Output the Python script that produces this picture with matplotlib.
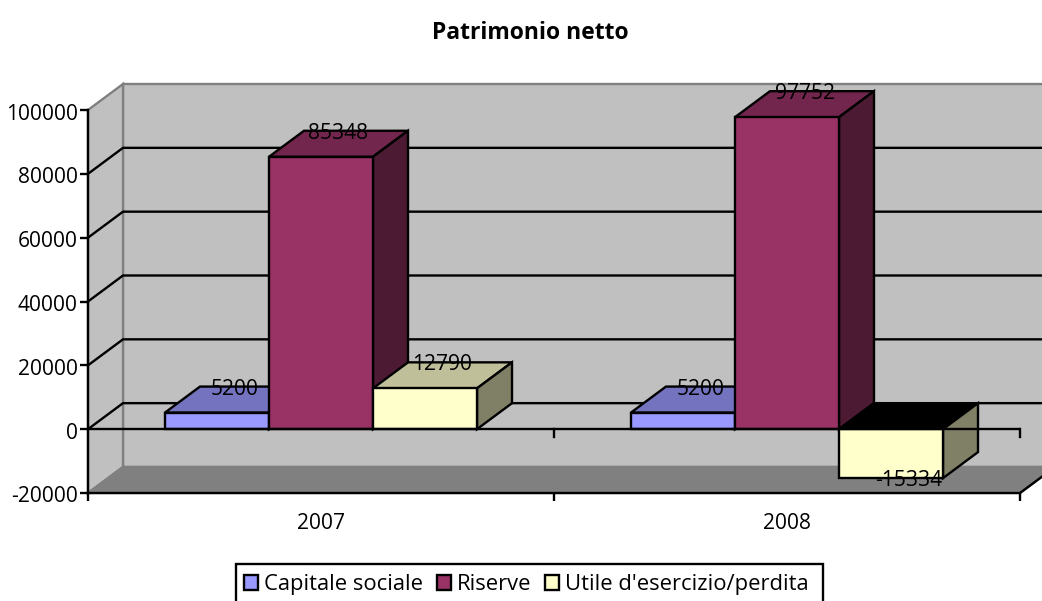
import matplotlib
matplotlib.use("Agg")
import matplotlib.pyplot as plt
from matplotlib.patches import Polygon, Patch, Rectangle
from matplotlib.transforms import ScaledTranslation

categories = ["2007", "2008"]
series_names = ["Capitale sociale", "Riserve", "Utile d'esercizio/perdita"]
capitale = [5200, 5200]
riserve = [85348, 97752]
utile = [12790, -15334]
y_ticks = [-20000, 0, 20000, 40000, 60000, 80000, 100000]

front = ["#9999FF", "#993366", "#FFFFCC"]
top = ["#7373BF", "#73264D", "#BFBF99"]
side = ["#4D4D80", "#4D1A33", "#808066"]

W, H = 1042, 601
plt.rcParams["font.family"] = ["Open Sans", "DejaVu Sans"]
FS = 15.1
LW = 1.7

fig = plt.figure(figsize=(W / 100, H / 100), dpi=100, facecolor="white")
ax = fig.add_axes([88 / W, 1 - 493 / H, (1020 - 88) / W, (493 - 110) / H])
ax.set_xlim(0, 2)
ax.set_ylim(y_ticks[0], y_ticks[-1])
ax.patch.set_alpha(0)

DX = 35 / 466
DY = 26 * 120000 / 383
ymin, ymax = y_ticks[0], y_ticks[-1]
GRAY = "#808080"


def poly(pts, fc, ec="black", lw=LW, z=2):
    ax.add_patch(Polygon(pts, closed=True, facecolor=fc, edgecolor=ec, linewidth=lw,
                         joinstyle="miter", clip_on=False, zorder=z))


# walls and floor
poly([(DX, ymin + DY), (2 + DX, ymin + DY), (2 + DX, ymax + DY), (DX, ymax + DY)], "#C0C0C0", GRAY, LW, 1)
poly([(0, ymin), (DX, ymin + DY), (DX, ymax + DY), (0, ymax)], "#C0C0C0", GRAY, LW, 1)
poly([(0, ymin), (2, ymin), (2 + DX, ymin + DY), (DX, ymin + DY)], "#808080", GRAY, LW, 1)
ax.plot([2, 2 + DX], [ymin, ymin + DY], color="black", lw=LW, clip_on=False, zorder=1.5)

# gridlines on the walls
for v in y_ticks[1:-1]:
    ax.plot([0, DX, 2 + DX], [v, v + DY, v + DY], color="black", lw=LW,
            clip_on=False, zorder=1.5, solid_joinstyle="miter")

# bars
bar_w = 104 / 466
gap = (1 - 3 * bar_w) / 2
for c in range(len(categories)):
    for s, vals in enumerate([capitale, riserve, utile]):
        v = vals[c]
        x0 = c + gap + s * bar_w
        x1 = x0 + bar_w
        poly([(x0, v), (x1, v), (x1 + DX, v + DY), (x0 + DX, v + DY)] if v > 0 else
             [(x0, 0), (x1, 0), (x1 + DX, DY), (x0 + DX, DY)],
             top[s] if v > 0 else "black", z=3 + s * 0.1)
        poly([(x1, 0), (x1 + DX, DY), (x1 + DX, v + DY), (x1, v)], side[s], z=3 + s * 0.1)
        poly([(x0, 0), (x1, 0), (x1, v), (x0, v)], front[s], z=3 + s * 0.1)
        ax.text((x0 + x1 + DX) / 2, v + DY if v > 0 else v, str(v), ha="center", va="center_baseline",
                fontsize=FS, color="black", zorder=6, clip_on=False)

# zero line with its ticks
ax.axhline(0, color="black", lw=LW, zorder=4)
for x in [1, 2]:
    ax.plot([x, x], [0, -2500], color="black", lw=LW, clip_on=False, zorder=4)

# axes
for k in ["top", "right"]:
    ax.spines[k].set_visible(False)
for k in ["left", "bottom"]:
    ax.spines[k].set_linewidth(LW)
    ax.spines[k].set_zorder(5)
ax.set_yticks(y_ticks)
ax.set_yticklabels([str(v) for v in y_ticks], va="center_baseline")
ax.tick_params(axis="y", length=5.8, width=LW, pad=1.5, labelsize=FS)
shift = ScaledTranslation(0, -1.5 / 100, fig.dpi_scale_trans)
for lab in ax.get_yticklabels():
    lab.set_transform(lab.get_transform() + shift)
ax.set_xticks([0, 1, 2])
ax.set_xticklabels([])
ax.set_xticks([0.5, 1.5], minor=True)
ax.set_xticklabels(categories, minor=True)
ax.tick_params(axis="x", which="major", length=5.8, width=LW)
ax.tick_params(axis="x", which="minor", length=0, pad=14.5, labelsize=FS)

fig.text(530 / W, 1 - 30 / H, "Patrimonio netto", ha="center", va="center_baseline",
         fontsize=16.5, fontweight="bold")

# legend frame runs off the bottom edge of the picture
fig.add_artist(Rectangle((236 / W, 1 - 620 / H), (823 - 236) / W, (620 - 564) / H,
                         transform=fig.transFigure, facecolor="white",
                         edgecolor="black", linewidth=LW))
handles = [Patch(facecolor=f, edgecolor="black", linewidth=LW) for f in front]
leg = fig.legend(handles, series_names, ncol=3, loc="upper left",
                 bbox_to_anchor=(244 / W, 1 - 574 / H), fontsize=15.8, frameon=False,
                 handlelength=0.66, handleheight=0.66, handletextpad=0.25,
                 columnspacing=0.62, borderpad=0, borderaxespad=0, labelspacing=0)
leg.set_zorder(10)

fig.savefig("out.png", dpi=100)
